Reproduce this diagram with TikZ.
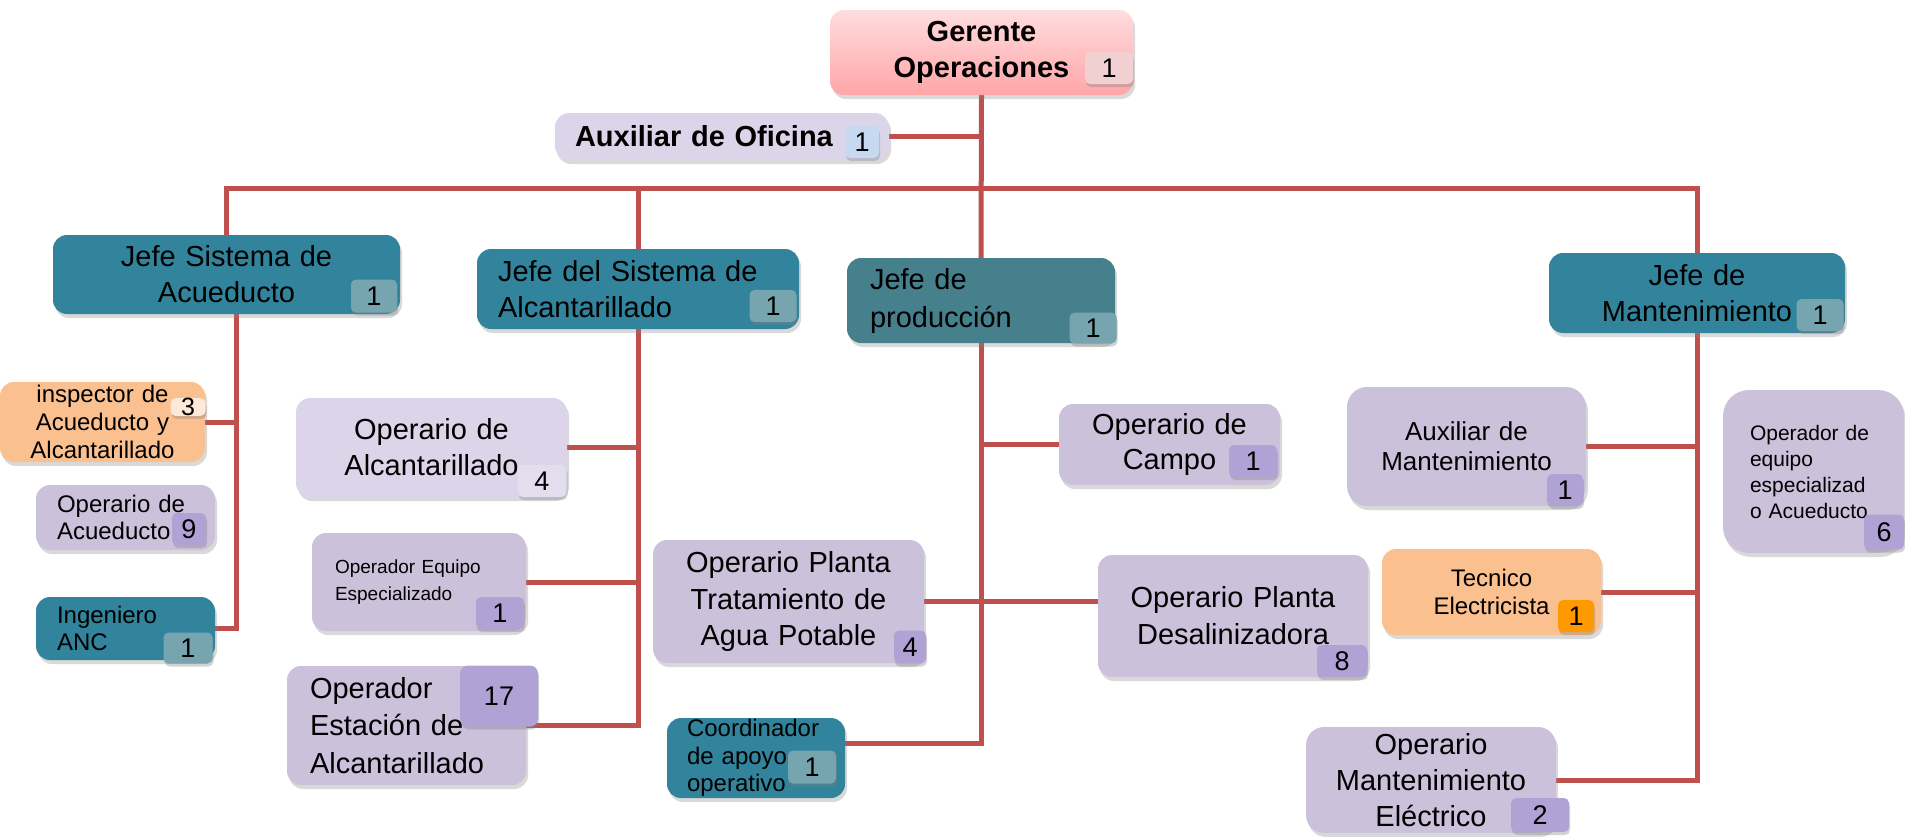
\documentclass[tikz,border=0pt]{standalone}
\usepackage{fontspec}
\setmainfont{Liberation Sans}
\usepackage{tikz}
\usetikzlibrary{shapes,positioning,calc,shadows,backgrounds}
\definecolor{tealBox}{HTML}{31849B}
\definecolor{tealProd}{HTML}{45808C}
\definecolor{tealBadge}{HTML}{76A5AF}
\definecolor{lilacBox}{HTML}{CCC1DA}
\definecolor{lilacLight}{HTML}{DCD5E9}
\definecolor{lilacPale}{HTML}{E2DEEE}
\definecolor{lilacBadge}{HTML}{B1A2D6}
\definecolor{peachBox}{HTML}{FAC090}
\definecolor{peachBadge}{HTML}{FDE9D9}
\definecolor{orangeBadge}{HTML}{FF9900}
\definecolor{pinkTop}{HTML}{FFDDDE}
\definecolor{pinkBot}{HTML}{FFA5A8}
\definecolor{pinkBadge}{HTML}{F2CFD0}
\definecolor{blueBadge}{HTML}{C6D9F1}
\definecolor{linkRed}{HTML}{C0504D}
\newcommand{\bigfont}{\fontsize{29}{36}\selectfont}
\newcommand{\midfont}{\fontsize{24}{28}\selectfont}
\newcommand{\numfont}{\fontsize{27}{30}\selectfont}

\begin{document}
\begin{tikzpicture}[
			x=1pt, y=-1pt,
			box/.style={
				rectangle,
				rounded corners=14pt,
				inner xsep=0pt,
				inner ysep=0pt,
				align=center,
				font=\bigfont,
				drop shadow={opacity=0.3, shadow xshift=2pt, shadow yshift=-4pt}
			},
			badge/.style={
				rectangle,
				rounded corners=5pt,
				inner sep=0pt,
				fill=lilacBadge,
				font=\numfont,
				drop shadow={opacity=0.35, shadow xshift=1pt, shadow yshift=-3pt}
			},
			link/.style={draw=linkRed, line width=5pt}
			]
			\useasboundingbox (0,0) rectangle (1905,836);
			% Gerente and office
			\node[box, top color=pinkTop, bottom color=pinkBot, font=\bigfont\bfseries, minimum width=303pt, minimum height=85pt, text width=280pt] (gerente) at (981.5,52.5) {Gerente\\Operaciones};
			\node[badge, fill=pinkBadge, minimum width=48pt, minimum height=32pt] (gerente_n) at (1109,68) {1};
			\node[box, fill=lilacLight, font=\bigfont\bfseries, minimum width=334pt, minimum height=47pt, text width=294pt, align=left] (aux_oficina) at (722,136.5) {Auxiliar de Oficina};
			\node[badge, fill=blueBadge, minimum width=34pt, minimum height=32pt] (aux_oficina_n) at (862,142) {1};
			% Jefes
			\node[box, fill=tealBox, minimum width=347pt, minimum height=79pt, text width=320pt] (jefe_acueducto) at (226.5,274.5) {Jefe Sistema de\\Acueducto};
			\node[badge, fill=tealBadge, minimum width=46pt, minimum height=33pt] (jefe_acueducto_n) at (374,296) {1};
			\node[box, fill=tealBox, minimum width=322pt, minimum height=80pt, text width=280pt, align=left] (jefe_alcantarillado) at (638,289) {Jefe del Sistema de\\Alcantarillado};
			\node[badge, fill=tealBadge, minimum width=47pt, minimum height=32pt] (jefe_alcantarillado_n) at (773,306) {1};
			\node[box, fill=tealProd, font=\fontsize{29}{38}\selectfont, minimum width=268pt, minimum height=85pt, text width=222pt, align=left] (jefe_produccion) at (981,300.5) {Jefe de\\producción};
			\node[badge, fill=tealBadge, minimum width=47pt, minimum height=31pt] (jefe_produccion_n) at (1093,328) {1};
			\node[box, fill=tealBox, minimum width=296pt, minimum height=80pt, text width=280pt] (jefe_mantenimiento) at (1697,293) {Jefe de\\Mantenimiento};
			\node[badge, fill=tealBadge, minimum width=47pt, minimum height=32pt] (jefe_mantenimiento_n) at (1820,315) {1};
			% Acueducto column
			\node[box, fill=peachBox, font=\midfont, minimum width=205pt, minimum height=80pt, text width=195pt] (inspector) at (102.5,422) {inspector de\\Acueducto y\\Alcantarillado};
			\node[badge, fill=peachBadge, font=\fontsize{25}{25}\selectfont, minimum width=35pt, minimum height=16pt] (inspector_n) at (188,407) {3};
			\node[box, fill=lilacBox, font=\fontsize{24}{27}\selectfont, minimum width=179pt, minimum height=65pt, text width=137pt, align=left] (op_acueducto) at (125.5,517.5) {Operario de\\Acueducto};
			\node[badge, minimum width=34pt, minimum height=32pt] (op_acueducto_n) at (189,529) {9};
			\node[box, fill=tealBox, font=\fontsize{24}{27}\selectfont, minimum width=179pt, minimum height=63pt, text width=137pt, align=left] (ing_anc) at (125.5,628.5) {Ingeniero\\ANC};
			\node[badge, fill=tealBadge, minimum width=49pt, minimum height=31pt] (ing_anc_n) at (188,648) {1};
			% Alcantarillado column
			\node[box, fill=lilacLight, minimum width=271pt, minimum height=99pt, text width=250pt] (op_alcantarillado) at (431.5,447.5) {Operario de\\Alcantarillado};
			\node[badge, fill=lilacPale, minimum width=49pt, minimum height=32pt] (op_alcantarillado_n) at (542,481) {4};
			\node[box, fill=lilacBox, font=\fontsize{19}{27}\selectfont, minimum width=214pt, minimum height=98pt, text width=168pt, align=left] (op_equipo) at (419,582) {Operador Equipo\\Especializado};
			\node[badge, minimum width=48pt, minimum height=32pt] (op_equipo_n) at (500,613) {1};
			\node[box, fill=lilacBox, font=\fontsize{29}{37.5}\selectfont, minimum width=239pt, minimum height=119pt, text width=193pt, align=left] (op_estacion) at (406.5,725.5) {Operador\\Estación de\\Alcantarillado};
			\node[badge, minimum width=78pt, minimum height=61pt, rounded corners=8pt] (op_estacion_n) at (499,696) {17};
			% Produccion column
			\node[box, fill=lilacBox, font=\fontsize{29}{35}\selectfont, minimum width=221pt, minimum height=81pt, text width=200pt] (op_campo) at (1169.5,444.5) {Operario de\\Campo};
			\node[badge, minimum width=48pt, minimum height=32pt] (op_campo_n) at (1253,461) {1};
			\node[box, fill=lilacBox, font=\fontsize{29}{36.5}\selectfont, minimum width=271pt, minimum height=123pt, text width=255pt] (op_tratamiento) at (788.5,601.5) {Operario Planta\\Tratamiento de\\Agua Potable};
			\node[badge, minimum width=32pt, minimum height=33pt] (op_tratamiento_n) at (910,647) {4};
			\node[box, fill=lilacBox, font=\fontsize{29}{37}\selectfont, minimum width=270pt, minimum height=122pt, text width=255pt] (op_desal) at (1233,616) {Operario Planta\\Desalinizadora};
			\node[badge, minimum width=50pt, minimum height=32pt] (op_desal_n) at (1342,661) {8};
			\node[box, fill=tealBox, font=\fontsize{24}{27.5}\selectfont, minimum width=178pt, minimum height=80pt, text width=138pt, align=left] (coordinador) at (756,758) {Coordinador\\de apoyo\\operativo};
			\node[badge, fill=tealBadge, minimum width=48pt, minimum height=33pt] (coordinador_n) at (812,767) {1};
			% Mantenimiento column
			\node[box, fill=lilacBox, rounded corners=20pt, font=\fontsize{26}{30}\selectfont, minimum width=239pt, minimum height=119pt, text width=220pt] (aux_mant) at (1466.5,446.5) {Auxiliar de\\Mantenimiento};
			\node[badge, minimum width=36pt, minimum height=32pt] (aux_mant_n) at (1565,490) {1};
			\node[box, fill=lilacBox, rounded corners=26pt, font=\fontsize{21}{26}\selectfont, minimum width=181pt, minimum height=163pt, text width=127pt, align=left] (op_equipo_acu) at (1813.5,471.5) {Operador de\\equipo\\especializad\\o Acueducto};
			\node[badge, minimum width=40pt, minimum height=35pt] (op_equipo_acu_n) at (1884,532) {6};
			\node[box, fill=peachBox, font=\midfont, minimum width=219pt, minimum height=86pt, text width=200pt] (tecnico) at (1491.5,592) {Tecnico\\Electricista};
			\node[badge, fill=orangeBadge, minimum width=36pt, minimum height=32pt] (tecnico_n) at (1576,616) {1};
			\node[box, fill=lilacBox, rounded corners=18pt, minimum width=250pt, minimum height=106pt, text width=235pt] (op_mant_elec) at (1431,780) {Operario\\Mantenimiento\\Eléctrico};
			\node[badge, minimum width=58pt, minimum height=34pt] (op_mant_elec_n) at (1540,815) {2};
			% Connectors
			\coordinate (bus) at (0,188);
			\coordinate (acu_trunk) at (236,313);
			\begin{scope}[on background layer]
				\draw[link] (gerente.south) -- (jefe_produccion.north);
				\draw[link] (aux_oficina.east) -- (aux_oficina.east -| gerente.south);
				\draw[link] (jefe_acueducto.north) -- (jefe_acueducto.north |- bus) -| (jefe_mantenimiento.north);
				\draw[link] (jefe_alcantarillado.north) -- (jefe_alcantarillado.north |- bus);
				% Acueducto
				\draw[link] (acu_trunk) |- (ing_anc.east);
				\draw[link] (inspector.east) -- (inspector.east -| acu_trunk);
				\draw[link] ($(op_acueducto.east)+(0,15)$) -- ($(op_acueducto.east)+(0,15)$ -| acu_trunk);
				% Alcantarillado
				\draw[link] (jefe_alcantarillado.south) |- (op_estacion.east);
				\draw[link] (op_alcantarillado.east) -- (op_alcantarillado.east -| jefe_alcantarillado.south);
				\draw[link] (op_equipo.east) -- (op_equipo.east -| jefe_alcantarillado.south);
				% Produccion
				\draw[link] (jefe_produccion.south) |- ($(coordinador.east)+(0,-15)$);
				\draw[link] (op_campo.west) -- (op_campo.west -| jefe_produccion.south);
				\draw[link] (op_tratamiento.east) -- (op_tratamiento.east -| op_desal.west);
				% Mantenimiento
				\draw[link] (jefe_mantenimiento.south) |- (op_mant_elec.east);
				\draw[link] (aux_mant.east) -- (aux_mant.east -| jefe_mantenimiento.south);
				\draw[link] (tecnico.east) -- (tecnico.east -| jefe_mantenimiento.south);
				\draw[link] ($(op_equipo_acu.west)+(0,-15)$) -- ($(op_equipo_acu.west)+(0,-15)$ -| jefe_mantenimiento.south);
			\end{scope}
		\end{tikzpicture}
\end{document}
